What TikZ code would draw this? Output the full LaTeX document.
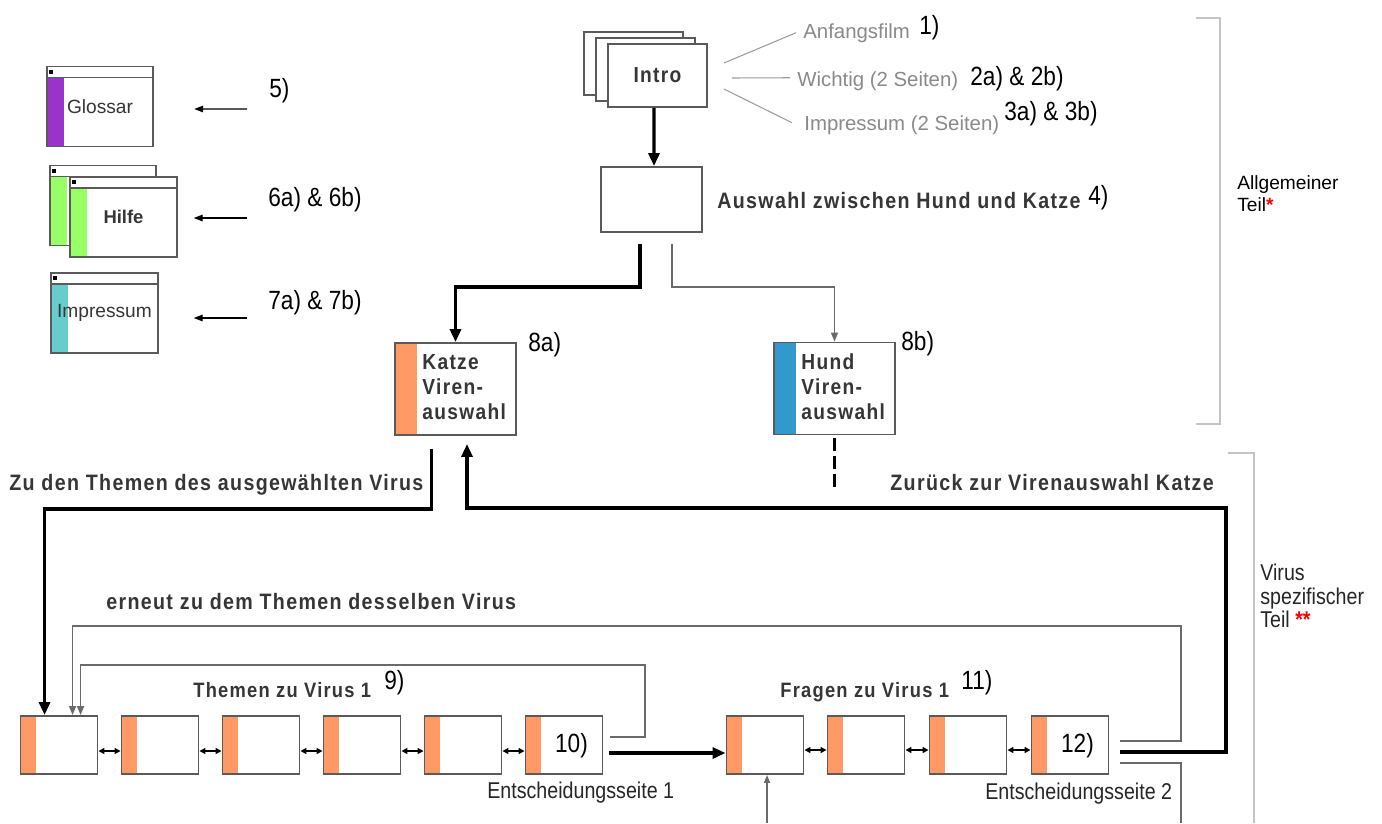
\documentclass[tikz,border=0pt]{standalone}
\usepackage{fontspec}
\setmainfont{Liberation Sans}
\newfontfamily\tfont[FakeStretch=0.88,LetterSpace=6]{Liberation Sans Bold}
\newfontfamily\nfont[FakeStretch=0.86]{Liberation Sans}
\usetikzlibrary{arrows.meta,calc}
\definecolor{boxgray}{HTML}{5A5A5A}
\definecolor{txtdark}{HTML}{363636}
\definecolor{lblgray}{HTML}{8A8A8A}
\definecolor{linegray}{HTML}{9C9C9C}
\definecolor{thingray}{HTML}{6A6A6A}
\definecolor{brackgray}{HTML}{C4C4C4}
\definecolor{peach}{HTML}{FF9966}
\definecolor{dogblue}{HTML}{3399CC}
\definecolor{glospurple}{HTML}{9933CC}
\definecolor{helpgreen}{HTML}{99FF66}
\definecolor{impteal}{HTML}{66CCCC}
\tikzset{
  box/.style={draw=boxgray, line width=1.1pt, fill=white, inner sep=0pt},
  stackbox/.style={box, minimum width=1.98cm, minimum height=1.26cm},
  page/.style={box, minimum width=1.54cm, minimum height=1.16cm,
    path picture={\fill[#1] (path picture bounding box.north west) rectangle ([xshift=0.3cm]path picture bounding box.south west);}},
  virbox/.style={box, minimum width=2.42cm, minimum height=1.84cm,
    path picture={\fill[#1] (path picture bounding box.north west) rectangle ([xshift=0.44cm]path picture bounding box.south west);}},
  win/.style={box, minimum width=2.13cm, minimum height=1.6cm,
    path picture={
      \fill[#1] ([yshift=-0.22cm]path picture bounding box.north west) rectangle ([xshift=0.34cm]path picture bounding box.south west);
      \draw[boxgray, line width=1pt] ([yshift=-0.22cm]path picture bounding box.north west) -- ([yshift=-0.22cm]path picture bounding box.north east);
      \fill[black] ([xshift=0.04cm,yshift=-0.06cm]path picture bounding box.north west) rectangle ++(0.08cm,-0.08cm);}},
  ttext/.style={inner sep=0pt, text=txtdark, font=\tfont\fontsize{12.4}{14.2}\selectfont},
  wide/.style={font=\tfont\fontsize{12.7}{14.2}\selectfont},
  narrowsize/.style={font=\tfont\fontsize{11.85}{14.2}\selectfont},
  lbl/.style={inner sep=0pt, text=lblgray, font=\fontsize{11.6}{13}\selectfont},
  num/.style={inner sep=0pt, text=black, font=\nfont\fontsize{15}{17}\selectfont},
  note/.style={inner sep=0pt, text=black!85, font=\nfont\fontsize{13}{13.3}\selectfont},
  wtext/.style={inner sep=0pt, text=txtdark, font=\fontsize{10.9}{12.5}\selectfont},
  thickarrow/.style={line width=1.9pt, -{Triangle[length=0.26cm,width=0.22cm]}},
  thinarrow/.style={draw=thingray, line width=0.9pt, -{Triangle[length=0.18cm,width=0.14cm]}},
  dblarrow/.style={line width=0.8pt, {Triangle[length=0.12cm,width=0.12cm]}-{Triangle[length=0.12cm,width=0.12cm]}},
  sidearrow/.style={line width=0.8pt, -{Triangle[length=0.18cm,width=0.13cm]}},
  glines/.style={draw=linegray, line width=0.6pt},
  bracket/.style={draw=brackgray, line width=0.7pt}
}
\begin{document}
\begin{tikzpicture}[x=0.02cm,y=-0.02cm]
\useasboundingbox (0,0) rectangle (1382,823);
\fill[white] (0,0) rectangle (1382,823);

% ---- intro stack and its sub-pages
\node[stackbox] (introA) at (633.5,63.5) {};
\node[stackbox] (introB) at (645.5,69.5) {};
\node[stackbox, ttext] (intro) at (657.5,75.5) {Intro};

\node[lbl, anchor=base west] (anf) at (803,38) {Anfangsfilm};
\node[lbl, anchor=base west] (wicht) at (797,86) {Wichtig (2 Seiten)};
\node[lbl, anchor=base west] (impr) at (804,130) {Impressum (2 Seiten)};
\node[num, anchor=base west] (n1) at (919,34) {1)};
\node[num, anchor=base west] (n2) at (970,85) {2a) \& 2b)};
\node[num, anchor=base west] (n3) at (1004,120) {3a) \& 3b)};

\draw[glines] ($(intro.east)+(16,-12.5)$) -- ($(anf.west)+(-7,0)$);
\draw[glines] ($(intro.east)+(24,2.5)$) -- ($(wicht.west)+(-7,-3)$);
\draw[glines] ($(intro.east)+(16,13.5)$) -- ($(impr.west)+(-12,-2)$);

% ---- choice between dog and cat
\node[box, minimum width=2.02cm, minimum height=1.3cm] (auswahl) at (651.5,199.5) {};
\node[ttext, wide, anchor=base west] (auswahlT) at (717,208) {Auswahl zwischen Hund und Katze};
\node[num, anchor=base west] (n4) at (1088,204) {4)};
\draw[thickarrow] ($(intro.south)+(-3.5,0)$) -- ($(auswahl.north)+(2.5,0)$);

\node[virbox=peach] (katze) at (455.5,389) {};
\node[ttext, anchor=west, align=left] (katzeT) at ($(katze.west)+(28,-2)$) {Katze\\Viren-\\auswahl};
\node[virbox=dogblue] (hund) at (834.5,388.5) {};
\node[ttext, anchor=west, align=left] (hundT) at ($(hund.west)+(28,-2)$) {Hund\\Viren-\\auswahl};
\node[num, anchor=base west] (n8a) at (528,351) {8a)};
\node[num, anchor=base west] (n8b) at (901,350) {8b)};

\draw[thickarrow] ($(auswahl.south)+(-11.5,11)$) -- ++(0,43) -| (katze.north);
\draw[thinarrow] ($(auswahl.south)+(20.5,11)$) -- ++(0,43) -| (hund.north);
\coordinate (hundEnd) at (834.5,489);
\draw[line width=1.8pt, dash pattern=on 0.26cm off 0.1cm] ($(hund.south)+(0,3)$) -- (hundEnd);

% ---- side windows
\node[win=glospurple, wtext] (glossar) at (100,106.5) {Glossar};
\node[win=helpgreen] (hilfeB) at (103,205.5) {};
\node[win=helpgreen, wtext, font=\bfseries\fontsize{10.5}{12}\selectfont] (hilfe) at (123.5,217) {Hilfe};
\node[win=impteal, wtext] (impwin) at (104.5,313) {Impressum};

\node[num, anchor=base west] (n5) at (269,97) {5)};
\node[num, anchor=base west] (n6) at (268,206) {6a) \& 6b)};
\node[num, anchor=base west] (n7) at (268,309) {7a) \& 7b)};
\coordinate (s5) at (247,109);
\coordinate (s6) at (247,218);
\coordinate (s7) at (247,318);
\draw[sidearrow] (s5) -- ($(glossar.east)+(40,2.5)$);
\draw[sidearrow] (s6) -- ($(hilfe.east)+(16,1)$);
\draw[sidearrow] (s7) -- ($(impwin.east)+(35,5)$);

% ---- topic pages
\foreach \i/\xx in {1/59,2/160,3/261,4/362,5/463,6/564}
  \node[page=peach] (t\i) at (\xx,745) {};
\foreach \i/\xx in {1/765,2/866,3/968,4/1070}
  \node[page=peach] (f\i) at (\xx,745) {};
\foreach \a/\b in {1/2,2/3,3/4,4/5,5/6}
  \draw[dblarrow] ($(t\a.east)+(0,6)$) -- ($(t\b.west)+(0,6)$);
\foreach \a/\b in {1/2,2/3,3/4}
  \draw[dblarrow] ($(f\a.east)+(0,5)$) -- ($(f\b.west)+(0,5)$);

\node[num] (n10) at ($(t6.center)+(7.5,1)$) {10)};
\node[num] (n12) at ($(f4.center)+(7.5,1)$) {12)};
\node[ttext, narrowsize, anchor=base west] (themenT) at (193,697) {Themen zu Virus 1};
\node[num, anchor=base west] (n9) at (384,689) {9)};
\node[ttext, narrowsize, anchor=base west] (fragenT) at (780,697) {Fragen zu Virus 1};
\node[num, anchor=base west] (n11) at (961,689) {11)};
\node[note, anchor=base west] (ent1) at (487,798) {Entscheidungsseite 1};
\node[note, anchor=base west] (ent2) at (985,799) {Entscheidungsseite 2};

\node[ttext, wide, anchor=base west] (zuT) at (9,490) {Zu den Themen des ausgewählten Virus};
\node[ttext, wide, anchor=base west] (zurT) at (890,490) {Zurück zur Virenauswahl Katze};
\node[ttext, wide, anchor=base west] (erT) at (106,609) {erneut zu dem Themen desselben Virus};

% ---- navigation connectors
\draw[thickarrow] ($(katze.south)+(-24,13)$) -- ++(0,60) -| ($(t1.north west)+(25,0)$);
\coordinate (retR) at (1226,508);
\draw[thickarrow] ($(f4.east)+(11,7)$) -| (retR) -| ($(katze.south)+(11.5,8)$);
\coordinate (erR) at (1181,626);
\draw[thinarrow] ($(f4.east)+(11,-4)$) -| (erR) -| ($(t1.north west)+(53,0)$);
\coordinate (nineR) at (645,665);
\draw[thinarrow] ($(t6.east)+(7,-8)$) -| (nineR) -| ($(t1.north west)+(61,0)$);
\draw[thickarrow] ($(t6.east)+(6,8)$) -- ($(f1.west)+(0,8)$);
\coordinate (lowEnd) at (1181,823);
\draw[draw=thingray, line width=0.9pt] ($(f4.east)+(11,18)$) -| (lowEnd);
\coordinate (upS) at (767,823);
\draw[thinarrow, -{Triangle[length=0.16cm,width=0.12cm]}] (upS) -- ($(f1.south)+(2,0)$);

% ---- part brackets
\draw[bracket] (1196,18) -- (1220,18) -- (1220,424) -- (1196,424);
\draw[bracket] (1228,453) -- (1254,453) -- (1254,823);
\node[anchor=north west, align=left, inner sep=0pt, font=\fontsize{10.9}{12.4}\selectfont] (allg) at (1237,175) {Allgemeiner\\Teil\textcolor{red}{\bfseries*}};
\node[note, anchor=north west, align=left] (virus) at (1260,564) {Virus\\spezifischer\\Teil \textcolor{red}{\bfseries**}};
\end{tikzpicture}
\end{document}
